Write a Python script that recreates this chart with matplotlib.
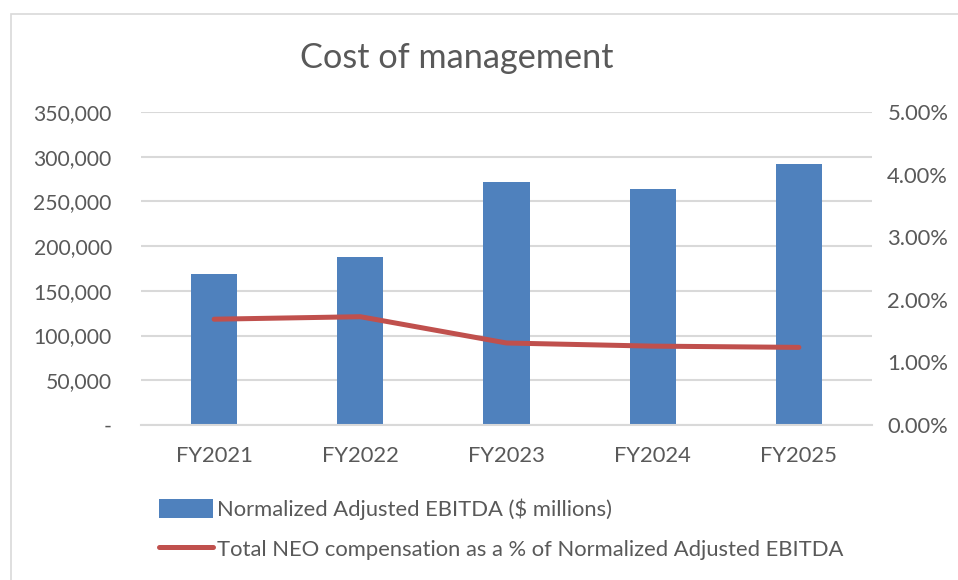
import matplotlib.pyplot as plt
from matplotlib.patches import Patch, Rectangle
from matplotlib.lines import Line2D
from matplotlib.ticker import FuncFormatter

# Chart data
years = ['FY2021', 'FY2022', 'FY2023', 'FY2024', 'FY2025']
ebitda = [168600, 187500, 271800, 264000, 291600]
neo_pct = [1.69, 1.73, 1.31, 1.26, 1.24]

bar_color = '#4F81BD'
line_color = '#C0504D'
text_color = '#595959'
grid_color = '#D9D9D9'

plt.rcParams['font.family'] = ['Lato', 'DejaVu Sans']

fig = plt.figure(figsize=(9.58, 5.8), dpi=100)
ax = fig.add_axes([141 / 958, 1 - 425 / 580, 731 / 958, 313 / 580])

# Light frame around the chart
fig.patches.append(Rectangle((11 / 958, -0.01), 1.0, 1 - 14 / 580 + 0.01,
                             transform=fig.transFigure, fill=False,
                             edgecolor='#D9D9D9', linewidth=1.2))

x = range(len(years))
ax.bar(x, ebitda, width=0.315, color=bar_color, zorder=2)
ax.set_ylim(0, 350000)
ax.set_yticks(range(0, 350001, 50000))
ax.yaxis.set_major_formatter(FuncFormatter(lambda v, p: '-' if v == 0 else f'{v:,.0f}'))
ax.set_xlim(-0.5, len(years) - 0.5)
ax.set_xticks(list(x))
ax.set_xticklabels(years)
ax.grid(axis='y', color=grid_color, linewidth=1.5, zorder=0)
ax.set_axisbelow(True)
for side in ['top', 'right', 'left']:
    ax.spines[side].set_visible(False)
ax.spines['bottom'].set_color(grid_color)
ax.spines['bottom'].set_linewidth(1.5)
ax.tick_params(axis='y', length=0, pad=21, labelsize=15.2, labelcolor=text_color)
ax.tick_params(axis='x', length=0, pad=15, labelsize=15.8, labelcolor=text_color)

ax2 = ax.twinx()
ax2.plot(x, neo_pct, color=line_color, linewidth=3.6, solid_capstyle='round', zorder=3)
ax2.set_ylim(0, 5)
ax2.set_yticks(range(0, 6))
ax2.yaxis.set_major_formatter(FuncFormatter(lambda v, p: f'{v:.2f}%'))
for side in ['top', 'right', 'left', 'bottom']:
    ax2.spines[side].set_visible(False)
ax2.tick_params(axis='y', length=0, pad=11, labelsize=15.8, labelcolor=text_color)

fig.text(457 / 958, 1 - 58 / 580, 'Cost of management', ha='center', va='center',
         fontsize=24.7, color=text_color)

handles = [Patch(facecolor=bar_color),
           Line2D([0], [0], color=line_color, linewidth=3.6, solid_capstyle='round')]
labels = ['Normalized Adjusted EBITDA ($ millions)',
          'Total NEO compensation as a % of Normalized Adjusted EBITDA']
fig.legend(handles, labels, loc='upper left', bbox_to_anchor=(150 / 958, 1 - 490 / 580),
           frameon=False, fontsize=15.8, labelcolor=text_color, handlelength=2.45,
           handleheight=0.95, handletextpad=0.2, labelspacing=0.85, borderaxespad=0)

fig.savefig('out.png', dpi=100)
